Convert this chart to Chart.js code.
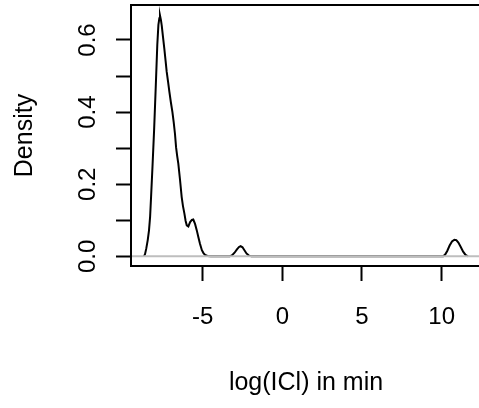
<!DOCTYPE html>
<html lang="en">
<head>
<meta charset="UTF-8">
<title>Density of log(ICl)</title>
<script src="https://cdn.jsdelivr.net/npm/chart.js"></script>
<style>
  html, body { margin: 0; padding: 0; background: #fff; overflow: hidden; }
  canvas { display: block; }
</style>
</head>
<body>
<canvas id="densityChart" width="483" height="408"></canvas>
<script>
// density estimate (x = log(ICl), y = density)
const densityX = [
  -8.69, -8.62, -8.54, -8.45, -8.37, -8.30, -8.24, -8.15, -8.05, -7.95,
  -7.85, -7.78, -7.72, -7.68, -7.62, -7.57, -7.49, -7.41, -7.33, -7.26,
  -7.17, -7.09, -7.00, -6.90, -6.82, -6.74, -6.67, -6.60, -6.53, -6.42,
  -6.32, -6.24, -6.15, -6.07, -6.00, -5.90, -5.79, -5.68, -5.59, -5.48,
  -5.37, -5.27, -5.17, -5.05, -4.95, -4.85, -4.70, -4.50, -3.30, -3.15,
  -3.00, -2.85, -2.72, -2.62, -2.50, -2.38, -2.25, -2.10, -1.95, 10.10,
  10.22, 10.35, 10.50, 10.65, 10.80, 10.92, 11.05, 11.20, 11.35, 11.50,
  11.65
];
const densityY = [
  0.000, 0.006, 0.022, 0.045, 0.072, 0.110, 0.165, 0.250, 0.350, 0.466,
  0.586, 0.642, 0.660, 0.668, 0.655, 0.640, 0.608, 0.577, 0.543, 0.512,
  0.483, 0.456, 0.428, 0.400, 0.372, 0.340, 0.302, 0.278, 0.257, 0.211,
  0.165, 0.140, 0.119, 0.098, 0.086, 0.083, 0.095, 0.101, 0.102, 0.090,
  0.072, 0.053, 0.035, 0.017, 0.009, 0.004, 0.001, 0.000, 0.000, 0.003,
  0.010, 0.019, 0.026, 0.028, 0.025, 0.017, 0.008, 0.002, 0.000, 0.000,
  0.005, 0.015, 0.030, 0.041, 0.046, 0.045, 0.038, 0.026, 0.013, 0.004,
  0.000
];

const xTicks = [-5, 0, 5, 10];
const yTicks = [0, 0.1, 0.2, 0.3, 0.4, 0.5, 0.6];
const yLabelled = [0, 0.2, 0.4, 0.6];

const xTitle = 'log(ICl) in min';
const yTitle = 'Density';

const fontFamily = '"Liberation Sans", Arial, Helvetica, sans-serif';
const fontSize = 24;
const titleSize = 25;

// box, zero line and the rotated y labels, R style
const rFrame = {
  id: 'rFrame',
  afterDatasetsDraw(chart) {
    const { ctx, chartArea: a, scales: { y } } = chart;
    const y0 = y.getPixelForValue(0);
    ctx.save();
    ctx.strokeStyle = '#bebebe';
    ctx.lineWidth = 2;
    ctx.beginPath();
    ctx.moveTo(a.left, y0);
    ctx.lineTo(a.right, y0);
    ctx.stroke();
    ctx.restore();
  },
  afterDraw(chart) {
    const { ctx, chartArea: a, scales: { y } } = chart;
    ctx.save();
    ctx.strokeStyle = '#000';
    ctx.lineWidth = 2;
    ctx.strokeRect(a.left, a.top, a.right - a.left, a.bottom - a.top);

    ctx.fillStyle = '#000';
    ctx.font = fontSize + 'px ' + fontFamily;
    ctx.textAlign = 'center';
    ctx.textBaseline = 'middle';
    yLabelled.forEach(v => {
      const py = y.getPixelForValue(v);
      ctx.save();
      ctx.translate(88, py);
      ctx.rotate(-Math.PI / 2);
      ctx.fillText(v.toFixed(1), 0, 0);
      ctx.restore();
    });
    ctx.restore();
  }
};

const ctx = document.getElementById('densityChart').getContext('2d');
const chart = new Chart(ctx, {
  type: 'scatter',
  data: {
    datasets: [{
      data: densityX.map((x, i) => ({ x: x, y: densityY[i] })),
      showLine: true,
      borderColor: '#000',
      borderWidth: 2,
      pointRadius: 0,
      tension: 0,
      fill: false
    }]
  },
  options: {
    responsive: false,
    animation: false,
    layout: { padding: { left: 0, top: 5, right: 2, bottom: 0 } },
    plugins: { legend: { display: false }, tooltip: { enabled: false } },
    scales: {
      x: {
        type: 'linear',
        min: -9.5,
        max: 12.47,
        afterBuildTicks: s => { s.ticks = xTicks.map(v => ({ value: v })); },
        afterFit: s => { s.height = 142; },
        border: { display: false },
        grid: {
          drawOnChartArea: false,
          drawTicks: true,
          tickLength: 15,
          tickWidth: 2,
          tickColor: '#000'
        },
        ticks: {
          color: '#000',
          padding: 22,
          maxRotation: 0,
          font: { family: fontFamily, size: fontSize },
          callback: v => String(v)
        },
        title: {
          display: true,
          text: xTitle,
          color: '#000',
          padding: { top: 0, bottom: 10 },
          font: { family: fontFamily, size: titleSize }
        }
      },
      y: {
        type: 'linear',
        min: -0.0268,
        max: 0.697,
        afterBuildTicks: s => { s.ticks = yTicks.map(v => ({ value: v })); },
        afterFit: s => { s.width = 131; },
        border: { display: false },
        grid: {
          drawOnChartArea: false,
          drawTicks: true,
          tickLength: 15,
          tickWidth: 2,
          tickColor: '#000'
        },
        ticks: {
          display: false
        },
        title: {
          display: true,
          text: yTitle,
          color: '#000',
          padding: { top: 10, bottom: 0 },
          font: { family: fontFamily, size: titleSize }
        }
      }
    }
  },
  plugins: [rFrame]
});
</script>
</body>
</html>
